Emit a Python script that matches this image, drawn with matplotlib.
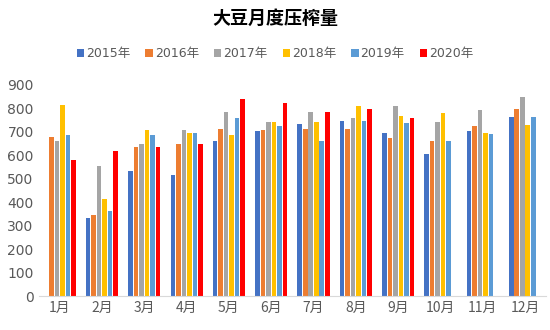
import matplotlib.pyplot as plt
import numpy as np

plt.rcParams['font.family'] = ['DejaVu Sans', 'Noto Sans CJK SC']

months = ['1月', '2月', '3月', '4月', '5月', '6月', '7月', '8月', '9月', '10月', '11月', '12月']
years = ['2015年', '2016年', '2017年', '2018年', '2019年', '2020年']
colors = ['#4472C4', '#ED7D31', '#A5A5A5', '#FFC000', '#5B9BD5', '#FF0000']

# monthly crush volume per year (nan = no data)
nan = np.nan
y2015 = [nan, 332, 531, 514, 660, 703, 733, 747, 693, 605, 703, 764]
y2016 = [676, 344, 635, 649, 710, 706, 710, 710, 674, 659, 725, 796]
y2017 = [662, 555, 649, 706, 784, 742, 784, 757, 811, 740, 794, 848]
y2018 = [815, 412, 706, 693, 686, 742, 740, 808, 767, 779, 693, 730]
y2019 = [686, 362, 686, 696, 760, 725, 659, 747, 737, 659, 689, 764]
y2020 = [579, 620, 635, 649, 838, 821, 784, 798, 757, nan, nan, nan]
series = [y2015, y2016, y2017, y2018, y2019, y2020]

fig = plt.figure(figsize=(5.5, 3.3), dpi=100)
ax = fig.add_axes([0.07, 0.103, 0.923, 0.64])

x = np.arange(len(months))
slot = 0.13
bw = 0.108
for i, (vals, lab, c) in enumerate(zip(series, years, colors)):
    ax.bar(x + (i - 2.5) * slot, vals, width=bw, color=c, label=lab)

ax.set_xlim(-0.5, len(months) - 0.5)
ax.set_ylim(0, 900)
ax.set_yticks(range(0, 901, 100))
ax.set_xticks(x)
ax.set_xticklabels(months, family=['Noto Sans CJK SC'])
ax.tick_params(length=0, colors='#595959', labelsize=10)
for s in ['top', 'right', 'left']:
    ax.spines[s].set_visible(False)
ax.spines['bottom'].set_color('#D9D9D9')

fig.text(0.5, 0.945, '大豆月度压榨量', ha='center', va='center', fontsize=13,
         fontweight='bold', family=['Noto Sans CJK SC'])
fig.legend(loc='center', bbox_to_anchor=(0.5, 0.838), ncol=6, frameon=False,
           handlelength=0.6, handleheight=0.6, handletextpad=0.15, columnspacing=1.2,
           prop={'family': ['DejaVu Sans', 'Noto Sans CJK SC'], 'size': 9},
           labelcolor='#595959')

fig.savefig('out.png')
